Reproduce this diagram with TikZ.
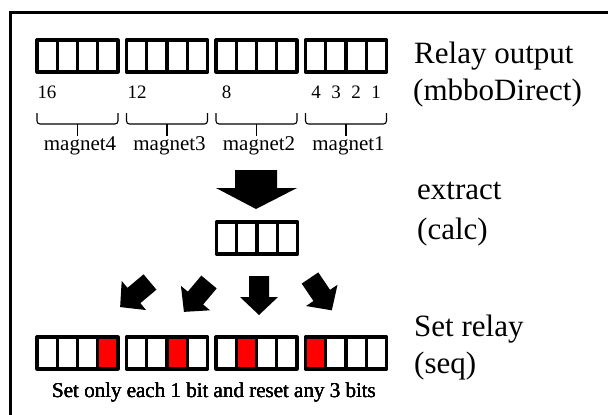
\documentclass[tikz,border=0pt]{standalone}
\usepackage{fontspec}
\setmainfont{Liberation Serif}

\tikzset{
  box/.style={line width=3.2pt, line join=round},
  brace/.style={line width=1.1pt, rounded corners=3pt},
  bignote/.style={font=\fontsize{31}{37}\selectfont, anchor=base west, inner sep=0pt},
  note/.style={font=\fontsize{21}{25}\selectfont, anchor=base, inner sep=0pt},
  digit/.style={font=\fontsize{19}{22}\selectfont, anchor=base, inner sep=0pt},
  smallarrow/.pic={\fill (0,-10) -- (21,-10) -- (21,-19) -- (39,0) -- (21,19) -- (21,10) -- (0,10) -- cycle;}
}

% one relay word of 4 bits at (x,y), #3 = red bit (0 = none)
\newcommand{\bitbox}[3]{%
  \ifnum#3>0 \fill[red] ({#1+(#3-1)*20.25},#2) rectangle +(20.25,32);\fi
  \draw[box] (#1,#2) rectangle +(81,32);
  \foreach \k in {1,2,3} \draw[box] ({#1+\k*20.25},#2) -- +(0,32);
}

\begin{document}
\begin{tikzpicture}[x=1pt, y=-1pt]
    \useasboundingbox (0,0) rectangle (608,415);
    \draw[line width=3pt] (10,415) -- (10,12) -- (608,12);

    % relay output
    \foreach \i/\m in {0/4, 1/3, 2/2, 3/1} {
        \bitbox{37+\i*89.5}{40}{0}
        \draw[brace] (37+\i*89.5,113) |- (118+\i*89.5,124) -- (118+\i*89.5,113);
        \draw[brace] (77.5+\i*89.5,124) -- (77.5+\i*89.5,136);
        \node[note] (mag\m) at (80+\i*89.5,150) {magnet\m};
    }
    \node[digit] (n16) at (47,98) {16};
    \node[digit] (n12) at (137,98) {12};
    \node[digit] (n8) at (226.5,98) {8};
    \foreach \b in {1,2,3,4}
        \node[digit] (n\b) at (376-\b*20+20,98) {\b};
    \node[bignote] (relay1) at (414,63) {Relay output};
    \node[bignote] (relay2) at (413,100) {(mbboDirect)};

    % extract
    \fill (235,170) -- (277,170) -- (277,188) -- (297,188) -- (256,209) -- (216,188) -- (235,188) -- cycle;
    \bitbox{216.5}{222}{0}
    \node[bignote] (calc1) at (417,199) {extract};
    \node[bignote] (calc2) at (417,239) {(calc)};

    % set relay
    \pic[rotate=220] at (150,282) {smallarrow};
    \pic[rotate=230] at (209,282) {smallarrow};
    \pic[rotate=270] at (259,276) {smallarrow};
    \pic[rotate=304] at (310,278) {smallarrow};
    \foreach \i/\r in {0/4, 1/3, 2/2, 3/1}
        \bitbox{37+\i*89.5}{337}{\r}
    \node[note] (setonly) at (214,397) {Set only each 1 bit and reset any 3 bits};
    \node[bignote] (seq1) at (414,336) {Set relay};
    \node[bignote] (seq2) at (414,373) {(seq)};
\end{tikzpicture}
\end{document}
